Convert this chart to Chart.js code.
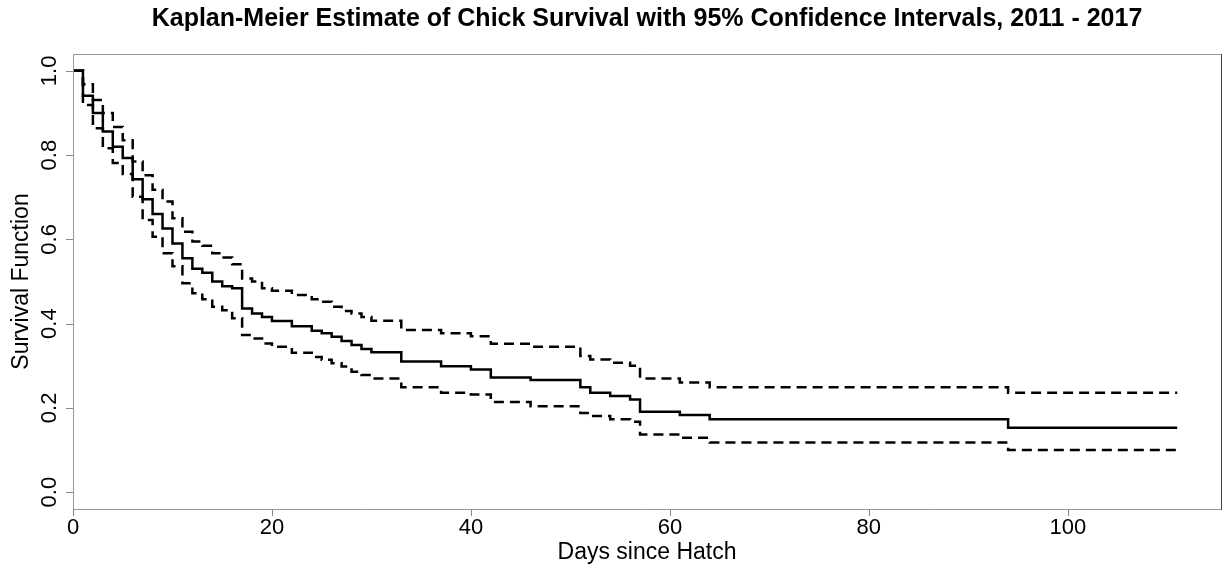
<!DOCTYPE html>
<html>
<head>
<meta charset="utf-8">
<script src="https://cdn.jsdelivr.net/npm/chart.js@4"></script>
<style>
  html, body { margin: 0; padding: 0; background: #fff; }
  canvas { display: block; }
</style>
</head>
<body>
<canvas id="kmChart" width="1225" height="568"></canvas>
<script>
// --- data ---
const days = [0, 1, 2, 3, 4, 5, 6, 7, 8, 9, 10, 11, 12, 13, 14, 15, 16, 17, 18, 19, 20, 22, 24, 25, 26, 27, 28, 29, 30, 33, 37, 40, 42, 46, 51, 52, 54, 56, 57, 61, 64, 94];
const survival = [1.0, .941, .900, .856, .820, .793, .743, .695, .660, .626, .590, .555, .530, .521, .500, .489, .484, .436, .424, .416, .406, .394, .383, .377, .369, .359, .349, .340, .332, .310, .299, .291, .272, .266, .249, .236, .228, .220, .191, .183, .173, .153];
const upperCI = [1.0, .968, .931, .900, .867, .835, .785, .752, .718, .690, .650, .618, .595, .585, .567, .557, .541, .507, .500, .484, .478, .468, .458, .452, .440, .430, .424, .416, .407, .385, .377, .370, .352, .345, .323, .315, .307, .300, .270, .260, .249, .236];
const lowerCI = [1.0, .919, .864, .816, .781, .755, .701, .646, .606, .567, .536, .496, .472, .458, .440, .432, .413, .373, .365, .353, .345, .331, .321, .314, .306, .298, .286, .278, .270, .249, .236, .232, .214, .204, .188, .181, .173, .167, .137, .129, .118, .100];
const lastDay = 111;

const xTicks = [0, 20, 40, 60, 80, 100];
const yTicks = [0, 0.2, 0.4, 0.6, 0.8, 1.0];

const titleText = 'Kaplan-Meier Estimate of Chick Survival with 95% Confidence Intervals, 2011 - 2017';
const xLabel = 'Days since Hatch';
const yLabel = 'Survival Function';

const FONT = "'Liberation Sans', Arial, sans-serif";

// step series -> points, holding the last value out to the last follow-up day
function toPoints(values) {
    const pts = days.map((d, i) => ({ x: d, y: values[i] }));
    pts.push({ x: lastDay, y: values[values.length - 1] });
    return pts;
}

// R-style box, ticks and labels
const rAxes = {
    id: 'rAxes',
    afterDraw(chart) {
        const { ctx, chartArea: a, scales: { x, y } } = chart;
        ctx.save();

        // box
        ctx.lineWidth = 1;
        ctx.strokeStyle = '#999';
        ctx.beginPath();
        ctx.moveTo(a.right + 0.5, a.top + 0.5);
        ctx.lineTo(a.left + 0.5, a.top + 0.5);
        ctx.lineTo(a.left + 0.5, a.bottom + 0.5);
        ctx.lineTo(a.right + 0.5, a.bottom + 0.5);
        ctx.stroke();
        ctx.strokeStyle = '#444';
        ctx.beginPath();
        ctx.moveTo(a.right + 0.5, a.top);
        ctx.lineTo(a.right + 0.5, a.bottom + 1);
        ctx.stroke();

        // tick marks
        ctx.strokeStyle = '#888';
        ctx.beginPath();
        xTicks.forEach(v => {
            const px = Math.round(x.getPixelForValue(v)) + 0.5;
            ctx.moveTo(px, a.bottom);
            ctx.lineTo(px, a.bottom + 7);
        });
        yTicks.forEach(v => {
            const py = Math.round(y.getPixelForValue(v)) + 0.5;
            ctx.moveTo(a.left, py);
            ctx.lineTo(a.left - 7, py);
        });
        ctx.stroke();

        ctx.fillStyle = '#000';
        ctx.font = '22px ' + FONT;
        ctx.textAlign = 'center';
        ctx.textBaseline = 'middle';

        // x tick labels
        xTicks.forEach(v => ctx.fillText(String(v), x.getPixelForValue(v), a.bottom + 19));

        // y tick labels (rotated like R)
        yTicks.forEach(v => {
            ctx.save();
            ctx.translate(50, y.getPixelForValue(v));
            ctx.rotate(-Math.PI / 2);
            ctx.fillText(v.toFixed(1), 0, 0);
            ctx.restore();
        });

        // axis titles
        ctx.font = '23px ' + FONT;
        ctx.fillText(xLabel, (a.left + a.right) / 2, 553);
        ctx.save();
        ctx.translate(22, (a.top + a.bottom) / 2);
        ctx.rotate(-Math.PI / 2);
        ctx.fillText(yLabel, 0, 0);
        ctx.restore();

        // main title
        ctx.font = 'bold 25px ' + FONT;
        ctx.fillText(titleText, (a.left + a.right) / 2, 19);

        ctx.restore();
    }
};

const lineBase = {
    borderColor: '#000',
    borderWidth: 2.5,
    stepped: true,
    pointRadius: 0,
    fill: false
};

new Chart(document.getElementById('kmChart').getContext('2d'), {
    type: 'line',
    data: {
        datasets: [
            { ...lineBase, label: 'Survival', data: toPoints(survival) },
            { ...lineBase, label: 'Upper 95% CI', data: toPoints(upperCI), borderDash: [10, 6] },
            { ...lineBase, label: 'Lower 95% CI', data: toPoints(lowerCI), borderDash: [10, 6] }
        ]
    },
    options: {
        responsive: false,
        animation: false,
        layout: { padding: { left: 73, right: 4, top: 54, bottom: 59 } },
        scales: {
            x: { type: 'linear', min: 0, max: 115.4, display: false },
            y: { type: 'linear', min: -0.04, max: 1.04, display: false }
        },
        plugins: { legend: { display: false }, tooltip: { enabled: false } }
    },
    plugins: [rAxes]
});
</script>
</body>
</html>
